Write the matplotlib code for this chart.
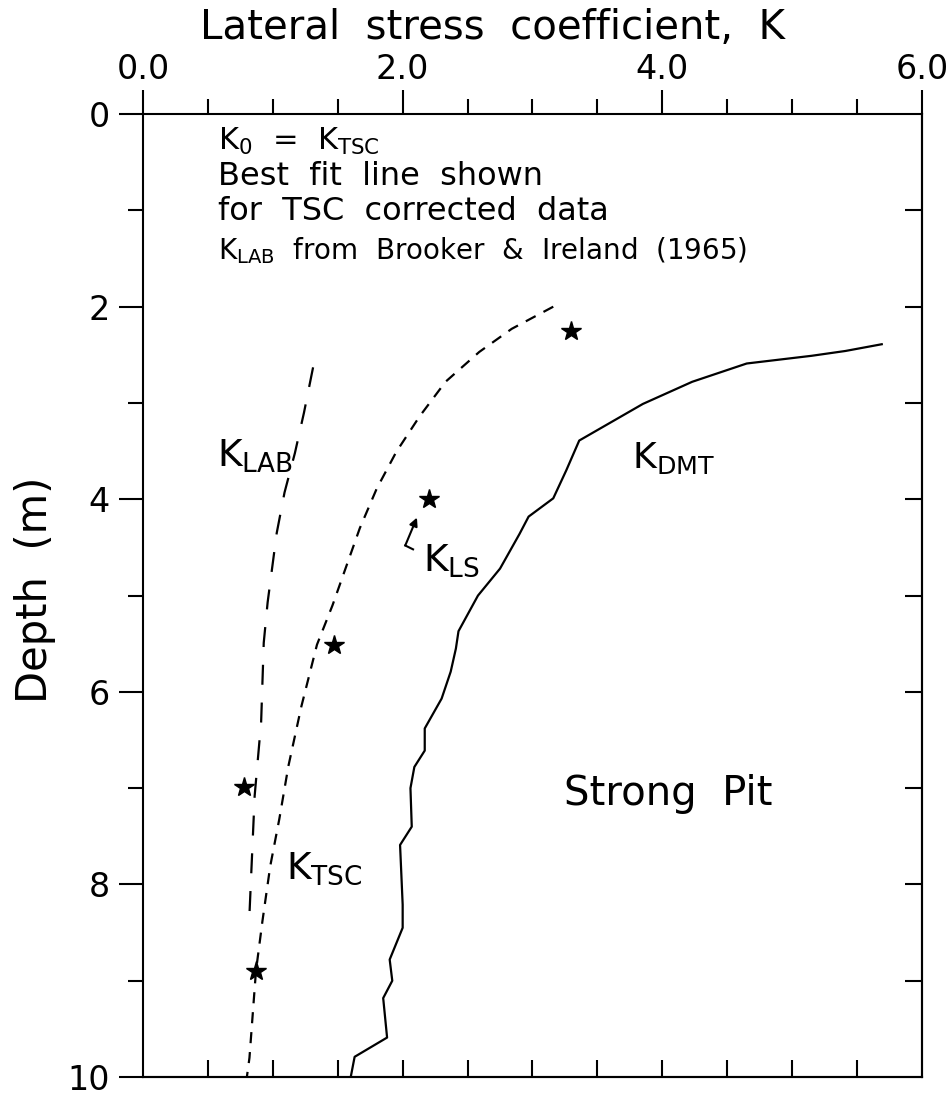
import matplotlib
matplotlib.use("Agg")
import matplotlib.pyplot as plt
import numpy as np

plt.rcParams['font.family'] = ['DejaVu Sans']
plt.rcParams['mathtext.fontset'] = 'dejavusans'

# K_DMT profile (solid line)
dmt_k = [5.69, 5.41, 5.15, 4.65, 4.23, 3.85, 3.36, 3.26, 3.16, 2.97, 2.90,
         2.75, 2.58, 2.43, 2.41, 2.37, 2.30, 2.17, 2.17, 2.09, 2.06, 2.07,
         1.98, 2.00, 2.00, 1.90, 1.92, 1.85, 1.88, 1.63, 1.60]
dmt_depth = [2.39, 2.46, 2.51, 2.59, 2.78, 3.01, 3.39, 3.70, 3.99, 4.18, 4.36,
             4.72, 5.00, 5.37, 5.55, 5.79, 6.07, 6.38, 6.61, 6.78, 7.00, 7.40,
             7.59, 8.21, 8.45, 8.78, 9.00, 9.18, 9.59, 9.79, 10.0]

# best fit for TSC corrected data (short dashes)
tsc_k = [3.16, 2.84, 2.59, 2.33, 2.13, 1.95, 1.80, 1.67, 1.57, 1.46, 1.34,
         1.22, 1.12, 1.05, 0.98, 0.92, 0.87, 0.82, 0.80]
tsc_depth = [2.00, 2.23, 2.47, 2.78, 3.14, 3.51, 3.89, 4.30, 4.68, 5.10, 5.51,
             6.15, 6.77, 7.32, 7.81, 8.38, 8.90, 9.80, 10.0]

# K_LAB from Brooker & Ireland (long dashes)
lab_k = [1.31, 1.24, 1.17, 1.09, 1.03, 0.96, 0.93, 0.91, 0.86, 0.82]
lab_depth = [2.63, 3.10, 3.52, 3.93, 4.35, 5.07, 5.49, 6.31, 7.08, 8.31]

# K_LS points (stars)
ls_k = [3.30, 2.20, 1.47, 0.78, 0.87]
ls_depth = [2.25, 4.00, 5.51, 6.99, 8.90]

x_major = [0.0, 2.0, 4.0, 6.0]
x_labels = ["0.0", "2.0", "4.0", "6.0"]
y_major = [0, 2, 4, 6, 8, 10]

fig = plt.figure(figsize=(9.47, 10.96), dpi=100)
ax = fig.add_axes([0.151, 0.0173, 0.8226, 0.8786])

ax.plot(dmt_k, dmt_depth, color="black", lw=1.6)
ax.plot(tsc_k, tsc_depth, color="black", lw=1.6, dashes=(5, 4))
ax.plot(lab_k, lab_depth, color="black", lw=1.6, dashes=(9, 8))
ax.plot(ls_k, ls_depth, ls="none", marker="*", ms=15, color="black")

# small hooked arrow for K_LS
ax.plot([2.08, 2.02], [4.52, 4.48], color="black", lw=1.5)
ax.annotate("", xy=(2.11, 4.19), xytext=(2.02, 4.48),
            arrowprops=dict(arrowstyle="-|>", color="black", lw=1.5,
                            mutation_scale=12, shrinkA=0, shrinkB=0))

ax.set_xlim(0, 6)
ax.set_ylim(10, 0)

# top axis: outward ticks with labels
ax.xaxis.tick_top()
ax.set_xticks(x_major)
ax.set_xticklabels(x_labels)
ax.set_xticks(np.arange(0.5, 6, 0.5), minor=True)
ax.tick_params(axis="x", which="major", direction="out", length=17, width=1.5,
               pad=3, labelsize=24)
ax.tick_params(axis="x", which="minor", direction="out", length=11, width=1.5)

# left axis: outward ticks with labels
ax.set_yticks(y_major)
ax.set_yticks(np.arange(1, 10, 2), minor=True)
ax.tick_params(axis="y", which="major", direction="out", length=17, width=1.5,
               pad=7, labelsize=24)
ax.tick_params(axis="y", which="minor", direction="out", length=11, width=1.5)

# bottom and right: inward ticks, no labels
bot = ax.secondary_xaxis("bottom")
bot.set_xticks(np.arange(0.5, 6, 0.5))
bot.tick_params(direction="in", length=12, width=1.5, labelbottom=False)
rgt = ax.secondary_yaxis("right")
rgt.set_yticks(np.arange(1, 10, 1))
rgt.tick_params(direction="in", length=12, width=1.5, labelright=False)
for a in (ax, bot, rgt):
    for s in a.spines.values():
        s.set_linewidth(1.5)

fig.text(493 / 947, 1 - 28 / 1096, "Lateral  stress  coefficient,  K",
         ha="center", va="center", fontsize=29)
fig.text(35 / 947, 1 - 590 / 1096, "Depth  (m)", rotation=90,
         ha="center", va="center", fontsize=30)

# note block
fx = 218 / 947
fig.text(fx, 1 - 150 / 1096, r"K$_\mathrm{0}$  =  K$_\mathrm{TSC}$",
         fontsize=22, va="baseline")
fig.text(fx, 1 - 185 / 1096, "Best  fit  line  shown", fontsize=23,
         va="baseline")
fig.text(fx, 1 - 220 / 1096, "for  TSC  corrected  data", fontsize=23,
         va="baseline")
fig.text(fx, 1 - 259 / 1096,
         r"K$_\mathrm{LAB}$  from  Brooker  &  Ireland  (1965)",
         fontsize=20, va="baseline")

# curve labels
ax.text(0.57, 3.66, r"K$_\mathrm{LAB}$", fontsize=27, va="baseline")
ax.text(1.10, 7.94, r"K$_\mathrm{TSC}$", fontsize=27, va="baseline")
ax.text(2.16, 4.74, r"K$_\mathrm{LS}$", fontsize=27, va="baseline")
ax.text(3.77, 3.68, r"K$_\mathrm{DMT}$", fontsize=26, va="baseline")
ax.text(3.24, 7.18, "Strong  Pit", fontsize=29, va="baseline")

fig.savefig("out.png", dpi=100)
